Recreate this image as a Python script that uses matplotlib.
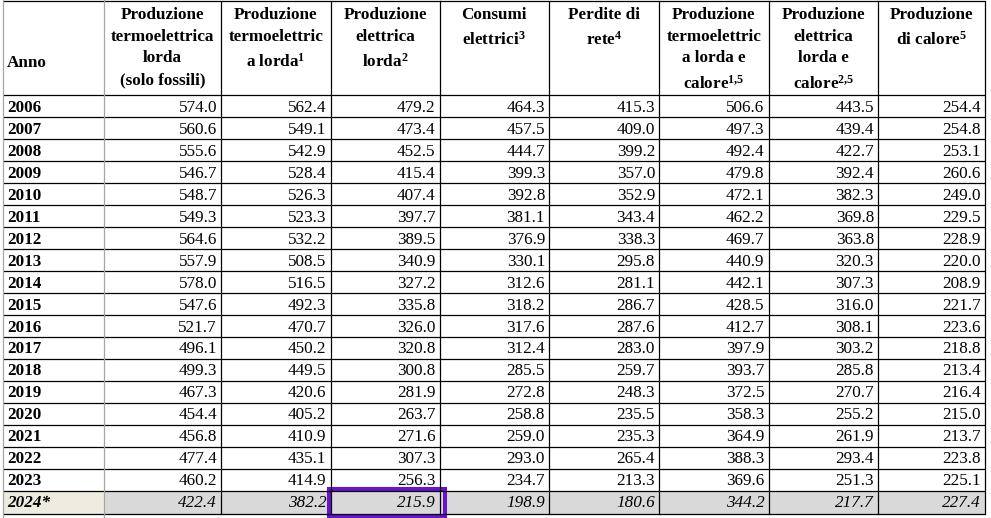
import matplotlib.pyplot as plt
from matplotlib.patches import Rectangle

plt.rcParams["font.family"] = ["Liberation Serif", "DejaVu Serif"]
plt.rcParams["mathtext.fontset"] = "custom"
plt.rcParams["mathtext.rm"] = "Liberation Serif:bold"
plt.rcParams["mathtext.bf"] = "Liberation Serif:bold"
plt.rcParams["mathtext.it"] = "Liberation Serif:italic:bold"

# ==========================================================
# Data
# ==========================================================

anni = ["2006", "2007", "2008", "2009", "2010", "2011", "2012", "2013",
        "2014", "2015", "2016", "2017", "2018", "2019", "2020", "2021",
        "2022", "2023", "2024*"]

headers = [
    ["Produzione", "termoelettrica", "lorda", "(solo fossili)"],
    ["Produzione", "termoelettric", "a lorda$^{1}$"],
    ["Produzione", "elettrica", "lorda$^{2}$"],
    ["Consumi", "elettrici$^{3}$"],
    ["Perdite di", "rete$^{4}$"],
    ["Produzione", "termoelettric", "a lorda e", "calore$^{1{,}5}$"],
    ["Produzione", "elettrica", "lorda e", "calore$^{2{,}5}$"],
    ["Produzione", "di calore$^{5}$"],
]

prod_termo_fossili = [574.0, 560.6, 555.6, 546.7, 548.7, 549.3, 564.6, 557.9,
                      578.0, 547.6, 521.7, 496.1, 499.3, 467.3, 454.4, 456.8,
                      477.4, 460.2, 422.4]
prod_termo_lorda = [562.4, 549.1, 542.9, 528.4, 526.3, 523.3, 532.2, 508.5,
                    516.5, 492.3, 470.7, 450.2, 449.5, 420.6, 405.2, 410.9,
                    435.1, 414.9, 382.2]
prod_elettrica_lorda = [479.2, 473.4, 452.5, 415.4, 407.4, 397.7, 389.5, 340.9,
                        327.2, 335.8, 326.0, 320.8, 300.8, 281.9, 263.7, 271.6,
                        307.3, 256.3, 215.9]
consumi_elettrici = [464.3, 457.5, 444.7, 399.3, 392.8, 381.1, 376.9, 330.1,
                     312.6, 318.2, 317.6, 312.4, 285.5, 272.8, 258.8, 259.0,
                     293.0, 234.7, 198.9]
perdite_rete = [415.3, 409.0, 399.2, 357.0, 352.9, 343.4, 338.3, 295.8,
                281.1, 286.7, 287.6, 283.0, 259.7, 248.3, 235.5, 235.3,
                265.4, 213.3, 180.6]
prod_termo_calore = [506.6, 497.3, 492.4, 479.8, 472.1, 462.2, 469.7, 440.9,
                     442.1, 428.5, 412.7, 397.9, 393.7, 372.5, 358.3, 364.9,
                     388.3, 369.6, 344.2]
prod_elettrica_calore = [443.5, 439.4, 422.7, 392.4, 382.3, 369.8, 363.8, 320.3,
                         307.3, 316.0, 308.1, 303.2, 285.8, 270.7, 255.2, 261.9,
                         293.4, 251.3, 217.7]
prod_calore = [254.4, 254.8, 253.1, 260.6, 249.0, 229.5, 228.9, 220.0,
               208.9, 221.7, 223.6, 218.8, 213.4, 216.4, 215.0, 213.7,
               223.8, 225.1, 227.4]

columns = [prod_termo_fossili, prod_termo_lorda, prod_elettrica_lorda,
           consumi_elettrici, perdite_rete, prod_termo_calore,
           prod_elettrica_calore, prod_calore]

# highlighted cell (row index, data column index)
highlight = (18, 2)

# ==========================================================
# Layout (pixels)
# ==========================================================

W, H = 991, 518
col_x = [3, 104, 221, 330.5, 439.5, 549, 659, 768.5, 878, 985]
header_top = 1
header_bottom = 95
row_h = 21.98
last_row_h = 23
fs = 12.3

fig = plt.figure(figsize=(W / 100, H / 100), dpi=100)
ax = fig.add_axes([0, 0, 1, 1])
ax.set_xlim(0, W)
ax.set_ylim(H, 0)
ax.axis("off")

n = len(anni)
row_tops = [header_bottom + i * row_h for i in range(n)]
table_bottom = row_tops[-1] + last_row_h

# last row background
ax.add_patch(Rectangle((col_x[0], row_tops[-1]), col_x[1] - col_x[0],
                       last_row_h, facecolor="#EEECE1", edgecolor="none"))
ax.add_patch(Rectangle((col_x[1], row_tops[-1]), col_x[-1] - col_x[1],
                       last_row_h, facecolor="#D9D9D9", edgecolor="none"))

# horizontal lines
for y in [header_top, header_bottom] + row_tops[1:] + [table_bottom]:
    ax.plot([col_x[0], col_x[-1]], [y, y], color="black", lw=0.9,
            solid_capstyle="butt")

# vertical lines
ax.plot([col_x[0], col_x[0]], [0, H], color="#A6A6A6", lw=0.9)
ax.plot([col_x[1], col_x[1]], [0, H], color="#A6A6A6", lw=0.9)
for x in col_x[2:]:
    ax.plot([x, x], [header_top, table_bottom], color="black", lw=0.9)

# header
ax.text(7, 66.7, "Anno", fontsize=fs, fontweight="bold",
        ha="left", va="baseline")

for j, lines in enumerate(headers):
    xc = (col_x[j + 1] + col_x[j + 2]) / 2
    y = 19
    for k, line in enumerate(lines):
        if k > 0:
            y += 21.7
            if "$" in line:
                y += 4.3
        ax.text(xc, y, line, fontsize=fs, fontweight="bold",
                ha="center", va="baseline")

# body
for i in range(n):
    last = i == n - 1
    base = row_tops[i] + 16.7
    ax.text(7, base, anni[i], fontsize=fs, fontweight="bold",
            fontstyle="italic" if last else "normal",
            ha="left", va="baseline")
    for j, values in enumerate(columns):
        ax.text(col_x[j + 2] - 4, base, f"{values[i]:.1f}", fontsize=fs,
                fontstyle="italic" if last else "normal",
                ha="right", va="baseline")

# highlight box
hr, hc = highlight
x0 = col_x[hc + 1] - 1.5
x1 = col_x[hc + 2] + 5.5
ax.add_patch(Rectangle((x0, row_tops[hr] - 2), x1 - x0, 27.5,
                       facecolor="none", edgecolor="#6B12D2", lw=2.9,
                       clip_on=False))

fig.savefig("out.png", dpi=100)
